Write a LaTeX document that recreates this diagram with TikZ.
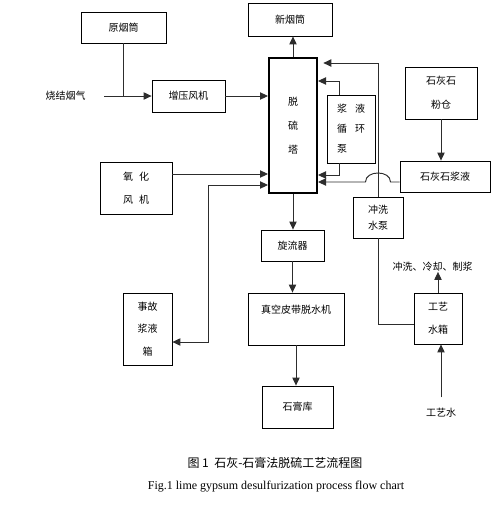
\documentclass[tikz,border=0pt]{standalone}
\usepackage{fontspec}
\setmainfont{Liberation Serif}
\newfontfamily\cjk{Noto Sans CJK SC}
\usepackage{tikz}
\usetikzlibrary{arrows.meta,positioning,calc}
\definecolor{linegray}{RGB}{45,45,45}
\newcommand{\pxl}{0.75pt}

\tikzset{
  box/.style={draw=black,line width=0.6pt,inner sep=0pt,align=center,font=\cjk\fontsize{7.5}{9}\selectfont},
  lbl/.style={inner sep=0pt,font=\cjk\fontsize{7.5}{9}\selectfont},
  flow/.style={draw=linegray,line width=0.7pt,-{Triangle[length=6pt,width=5.5pt]}},
  pipe/.style={draw=linegray,line width=0.7pt},
}

\begin{document}
\begin{tikzpicture}[x=\pxl,y=-\pxl]
  \useasboundingbox (0,0) rectangle (499,508);
  % boxes
  \node[box,minimum width=85*\pxl,minimum height=31*\pxl] (yyt) at (123.5,27.5) {原烟筒};
  \node[box,minimum width=73*\pxl,minimum height=32*\pxl] (zyfj) at (188.5,96) {增压风机};
  \node[box,line width=1.5pt,minimum width=48*\pxl,minimum height=135*\pxl] (tower) at (293,125.5) {脱\\[9pt]硫\\[9pt]塔};
  \node[box,minimum width=84*\pxl,minimum height=33*\pxl] (xyt) at (290,19.5) {新烟筒};
  \node[box,align=left,minimum width=48*\pxl,minimum height=68*\pxl] (pump) at (351,129) {浆\hspace{6pt}液\\[6pt]循\hspace{6pt}环\\[6pt]泵};
  \node[box,minimum width=72*\pxl,minimum height=52*\pxl] (fc) at (441,93) {石灰石\\[9pt]粉仓};
  \node[box,minimum width=90*\pxl,minimum height=31*\pxl] (jy) at (445,176.5) {石灰石浆液};
  \node[box,minimum width=50*\pxl,minimum height=41*\pxl] (cxb) at (378,217.5) {冲洗\\[3pt]水泵};
  \node[box,minimum width=48*\pxl,minimum height=51*\pxl] (gysx) at (438,318.5) {工艺\\[8pt]水箱};
  \node[box,minimum width=63*\pxl,minimum height=31*\pxl] (xlq) at (292.5,245.5) {旋流器};
  \node[box,minimum width=96*\pxl,minimum height=52*\pxl] (tsj) at (296,319) {真空皮带脱水机\\[6pt]\mbox{}};
  \node[box,minimum width=71*\pxl,minimum height=42*\pxl] (sgk) at (297.5,407) {石膏库};
  \node[box,minimum width=72*\pxl,minimum height=52*\pxl] (yhfj) at (136,188) {氧\hspace{4.5pt}化\\[8pt]风\hspace{4.5pt}机};
  \node[box,minimum width=49*\pxl,minimum height=72*\pxl] (sgx) at (147.5,329) {事故\\[8pt]浆液\\[8pt]箱};
  % free labels
  \node[lbl] (sjyq) at (65.5,96) {烧结烟气};
  \node[lbl] (cl) at (432.5,267) {冲洗、冷却、制浆};
  \node[lbl] (gys) at (441,413) {工艺水};
  \coordinate (gasin) at (104,96);

  % flue gas
  \draw[flow] (gasin) -- (zyfj.west);
  \draw[pipe] (yyt.south) -- (yyt.south |- gasin);
  \draw[flow] (zyfj.east) -- (zyfj.east -| tower.west);
  \draw[flow] (tower.north) -- (tower.north |- xyt.south);
  % slurry loop
  \draw[flow] (pump.north -| 339,0) |- (tower.east |- 0,81);
  \draw[flow] (pump.south -| 339,0) |- (tower.east |- 0,175);
  \draw[flow] (cxb.north) |- ([xshift=4pt]tower.east |- 0,63);
  \draw[flow] (fc.south) -- (fc.south |- jy.north);
  \draw[flow] (jy.west |- 0,182) -- (390.5,182) .. controls (390.5,170) and (365.5,170) .. (365.5,182) -- (tower.east |- 0,182);
  % water
  \draw[pipe] (cxb.south) |- (gysx.west |- 0,324);
  \draw[flow] (gysx.north) -- (gysx.north |- cl.south);
  \draw[flow] ([yshift=8pt]gys.north) -- (gys.north |- gysx.south);
  % gypsum
  \draw[flow] (tower.south) -- (tower.south |- xlq.north);
  \draw[flow] (xlq.south) -- (xlq.south |- tsj.north);
  \draw[flow] (tsj.south) -- (tsj.south |- sgk.north);
  % air and emergency tank
  \draw[flow] (yhfj.east |- 0,174) -- (tower.west |- 0,174);
  \draw[flow,{Triangle[length=6pt,width=5.5pt]}-{Triangle[length=6pt,width=5.5pt]}] (tower.west |- 0,185) -| (208,342) -- (sgx.east |- 0,342);

  % caption
  \node[font=\cjk\fontsize{9}{11}\selectfont] (cap) at (275,463) {图 1\ \ 石灰-石膏法脱硫工艺流程图};
  \node[font=\fontsize{9}{11}\selectfont] (capen) at (276,487) {Fig.1 lime gypsum desulfurization process flow chart};
\end{tikzpicture}
\end{document}
